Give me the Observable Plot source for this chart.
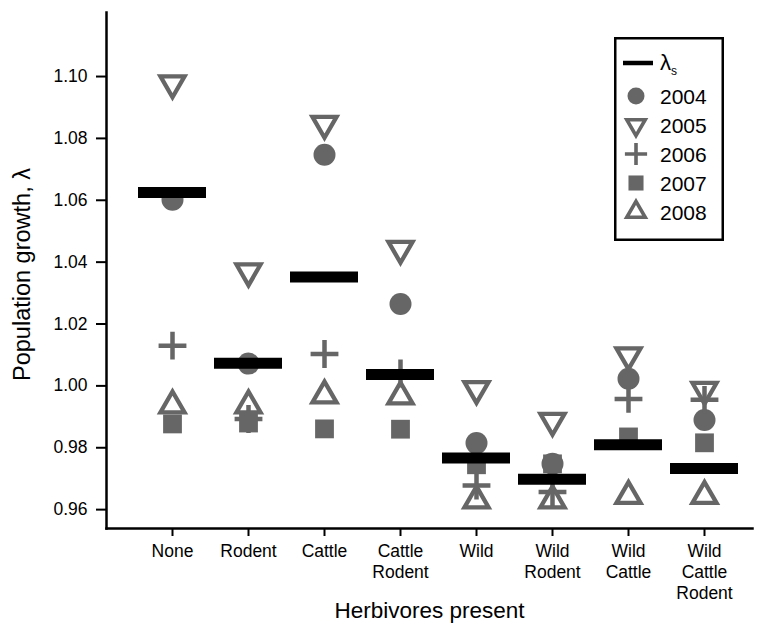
<!DOCTYPE html>
<html>
<head>
<meta charset="utf-8">
<script src="https://cdn.jsdelivr.net/npm/d3@7"></script>
<script src="https://cdn.jsdelivr.net/npm/@observablehq/plot@0.6"></script>
<style>
  body { margin: 0; background: white; }
  #wrap { position: relative; width: 762px; height: 627px; font-family: "Liberation Sans", Arial, Helvetica, sans-serif; }
  #legend { position: absolute; left: 614px; top: 37px; }
</style>
</head>
<body>
<div id="wrap"><div id="chart"></div><div id="legend"></div></div>
<script>
// ---- data ----
const categories = ["None", "Rodent", "Cattle", "Cattle Rodent", "Wild", "Wild Rodent", "Wild Cattle", "Wild Cattle Rodent"];
const years = ["2004", "2005", "2006", "2007", "2008"];
const lambdaS = [1.0625, 1.0073, 1.0352, 1.0037, 0.9767, 0.9698, 0.9810, 0.9733];
const y2004 = [1.0602, 1.0072, 1.0747, 1.0265, 0.9815, 0.9748, 1.0023, 0.9890];
const y2005 = [1.0978, 1.0370, 1.0847, 1.0443, 0.9990, 0.9887, 1.0099, 0.9987];
const y2006 = [1.0130, 0.9893, 1.0103, 1.0040, 0.9678, 0.9657, 0.9958, 0.9955];
const y2007 = [0.9877, 0.9880, 0.9861, 0.9860, 0.9745, 0.9748, 0.9835, 0.9816];
const y2008 = [0.9937, 0.9937, 0.9969, 0.9966, 0.9630, 0.9630, 0.9644, 0.9644];
const yTicks = [0.96, 0.98, 1.00, 1.02, 1.04, 1.06, 1.08, 1.10];

const rows = (vals) => categories.map((c, i) => ({cat: c, value: vals[i]}));

// ---- symbols ----
const triUp = {draw(ctx, size) {
  const s = Math.sqrt(size) * 0.6824, t = s / 2, u = s * Math.sqrt(3) / 2;
  ctx.moveTo(0, -s); ctx.lineTo(u, t); ctx.lineTo(-u, t); ctx.closePath();
}};
const triDown = {draw(ctx, size) {
  const s = Math.sqrt(size) * 0.6824, t = s / 2, u = s * Math.sqrt(3) / 2;
  ctx.moveTo(0, s); ctx.lineTo(u, -t); ctx.lineTo(-u, -t); ctx.closePath();
}};

const gray = "#666666";
const font = "Liberation Sans, Arial, Helvetica, sans-serif";

const chart = Plot.plot({
  width: 762,
  height: 627,
  marginLeft: 106,
  marginRight: 10,
  marginTop: 12,
  marginBottom: 99,
  style: {fontFamily: font, fontSize: "17px", color: "black", background: "white"},
  x: {type: "band", domain: categories, range: [130.6, 745.4], paddingInner: 0.1, paddingOuter: 0.05},
  y: {domain: [0.9539, 1.1207]},
  marks: [
    Plot.frame({anchor: "left", stroke: "black", strokeWidth: 2.5}),
    Plot.frame({anchor: "bottom", stroke: "black", strokeWidth: 2.5}),
    Plot.axisY({ticks: yTicks, tickFormat: d3.format(".2f"), tickSize: 10, tickPadding: 9, strokeWidth: 2, fontSize: 17.5, label: null}),
    Plot.axisX({tickSize: 8, tickPadding: 5, strokeWidth: 2, fontSize: 17.5, lineHeight: 1.22,
      tickFormat: (d) => d.replace(/ /g, "\n"), label: null}),
    Plot.text(["Population growth, λ"], {frameAnchor: "left", textAnchor: "middle", lineAnchor: "middle", rotate: -90, dx: -84, dy: 4, fontSize: 23.5}),
    Plot.text(["Herbivores present"], {frameAnchor: "bottom", textAnchor: "middle", lineAnchor: "middle", dy: 82, fontSize: 22.5}),
    Plot.dot(rows(y2004), {x: "cat", y: "value", symbol: "circle", r: 11, fill: gray, stroke: "none"}),
    Plot.dot(rows(y2005), {x: "cat", y: "value", symbol: triDown, r: 11.5, fill: "none", stroke: gray, strokeWidth: 4.3}),
    Plot.dot(rows(y2006), {x: "cat", y: "value", symbol: "plus", r: 9, fill: "none", stroke: gray, strokeWidth: 4.5}),
    Plot.dot(rows(y2007), {x: "cat", y: "value", symbol: "square", r: 10.6, fill: gray, stroke: "none"}),
    Plot.dot(rows(y2008), {x: "cat", y: "value", symbol: triUp, r: 11.5, fill: "none", stroke: gray, strokeWidth: 4.3}),
    Plot.tickY(rows(lambdaS), {x: "cat", y: "value", stroke: "black", strokeWidth: 11})
  ]
});
document.getElementById("chart").appendChild(chart);

// ---- legend ----
const lw = 110, lh = 204;
const svg = d3.select("#legend").append("svg").attr("width", lw).attr("height", lh)
  .style("font-family", font);
svg.append("rect").attr("x", 1.25).attr("y", 1.25).attr("width", lw - 2.5).attr("height", lh - 2.5)
  .attr("fill", "white").attr("stroke", "black").attr("stroke-width", 2.5);
svg.append("line").attr("x1", 9).attr("x2", 39).attr("y1", 26).attr("y2", 26)
  .attr("stroke", "black").attr("stroke-width", 4.5);
const lt = svg.append("text").attr("x", 46).attr("y", 33).attr("font-size", 22);
lt.append("tspan").text("λ");
lt.append("tspan").attr("font-size", 12).attr("dy", 5).text("s");
const legendSymbols = [
  {sym: d3.symbolCircle, size: Math.PI * 8.5 * 8.5, fill: gray, stroke: "none", sw: 0},
  {sym: triDown, size: Math.PI * 8.8 * 8.8, fill: "none", stroke: gray, sw: 3.6},
  {sym: d3.symbolPlus, size: Math.PI * 7.2 * 7.2, fill: "none", stroke: gray, sw: 3.6},
  {sym: d3.symbolSquare, size: Math.PI * 8.5 * 8.5, fill: gray, stroke: "none", sw: 0},
  {sym: triUp, size: Math.PI * 8.8 * 8.8, fill: "none", stroke: gray, sw: 3.6}
];
const rowY = [59, 88, 117, 146, 175];
years.forEach((yr, i) => {
  const s = legendSymbols[i];
  svg.append("path").attr("d", d3.symbol(s.sym, s.size)())
    .attr("transform", `translate(22,${rowY[i]})`)
    .attr("fill", s.fill).attr("stroke", s.stroke).attr("stroke-width", s.sw);
  svg.append("text").attr("x", 46).attr("y", rowY[i]).attr("dy", "0.36em")
    .attr("font-size", 21).text(yr);
});
</script>
</body>
</html>
